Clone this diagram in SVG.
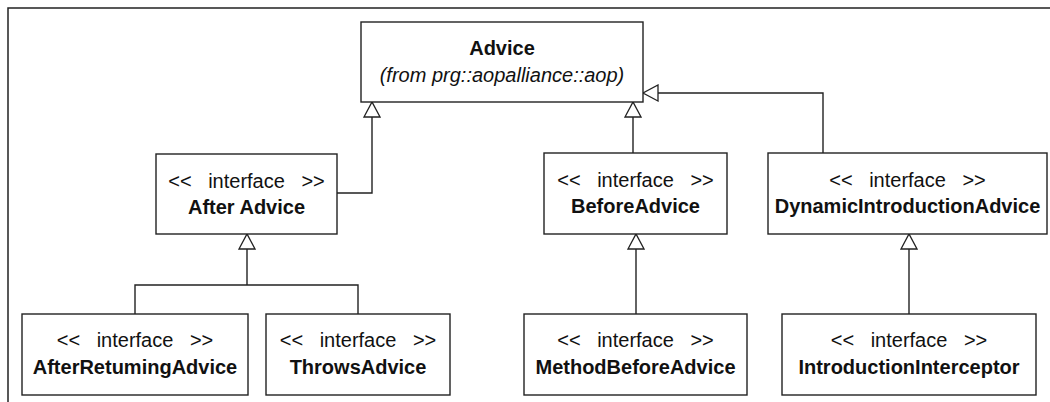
<svg xmlns="http://www.w3.org/2000/svg" width="1050" height="402" viewBox="0 0 1050 402">
<style>
.box{fill:#fff;stroke:#222;stroke-width:1.4}
.st{font-family:"Liberation Sans",Arial,sans-serif;font-size:20px;fill:#111;text-anchor:middle;word-spacing:11px}
.nm{font-family:"Liberation Sans",Arial,sans-serif;font-size:20px;font-weight:bold;fill:#111;text-anchor:middle}
.it{font-family:"Liberation Sans",Arial,sans-serif;font-size:20px;font-style:italic;fill:#111;text-anchor:middle}
.ln{fill:none;stroke:#222;stroke-width:1.4}
.frame{fill:none;stroke:#222;stroke-width:1.5}
</style>
<defs>
<marker id="tri" markerUnits="userSpaceOnUse" markerWidth="18" markerHeight="18" refX="15" refY="8" orient="auto" viewBox="-1 -1 18 18">
<path d="M0,0 L15,8 L0,16 Z" fill="#fff" stroke="#222" stroke-width="1.3"/>
</marker>
</defs>
<path class="frame" d="M8,402 V8 H1050"/>
<g id="connectors">
<path class="ln" d="M337,193 H372 V102" marker-end="url(#tri)"/>
<path class="ln" d="M633,153 V102" marker-end="url(#tri)"/>
<path class="ln" d="M823,153 V93 H643" marker-end="url(#tri)"/>
<path class="ln" d="M135,314 V285 H358 V314"/>
<path class="ln" d="M247,285 V234" marker-end="url(#tri)"/>
<path class="ln" d="M636,314 V234" marker-end="url(#tri)"/>
<path class="ln" d="M909,314 V234" marker-end="url(#tri)"/>
</g>
<g id="advice">
<rect class="box" x="361" y="22" width="282" height="80"/>
<text class="nm" x="502" y="55">Advice</text>
<text class="it" x="502" y="82">(from prg::aopalliance::aop)</text>
</g>
<g id="after-advice">
<rect class="box" x="156" y="154" width="181" height="80"/>
<text class="st" x="246.5" y="188">&lt;&lt; interface &gt;&gt;</text>
<text class="nm" x="246.5" y="214">After Advice</text>
</g>
<g id="before-advice">
<rect class="box" x="544" y="153" width="183" height="81"/>
<text class="st" x="635.5" y="187">&lt;&lt; interface &gt;&gt;</text>
<text class="nm" x="635.5" y="213">BeforeAdvice</text>
</g>
<g id="dynamic-introduction-advice">
<rect class="box" x="768" y="153" width="279" height="81"/>
<text class="st" x="907.5" y="187">&lt;&lt; interface &gt;&gt;</text>
<text class="nm" x="907.5" y="213">DynamicIntroductionAdvice</text>
</g>
<g id="after-returning-advice">
<rect class="box" x="22" y="314" width="226" height="81"/>
<text class="st" x="135" y="347">&lt;&lt; interface &gt;&gt;</text>
<text class="nm" x="135" y="374">AfterRetumingAdvice</text>
</g>
<g id="throws-advice">
<rect class="box" x="266" y="314" width="184" height="81"/>
<text class="st" x="358" y="347">&lt;&lt; interface &gt;&gt;</text>
<text class="nm" x="358" y="374">ThrowsAdvice</text>
</g>
<g id="method-before-advice">
<rect class="box" x="524" y="314" width="223" height="81"/>
<text class="st" x="635.5" y="347">&lt;&lt; interface &gt;&gt;</text>
<text class="nm" x="635.5" y="374">MethodBeforeAdvice</text>
</g>
<g id="introduction-interceptor">
<rect class="box" x="782" y="314" width="254" height="81"/>
<text class="st" x="909" y="347">&lt;&lt; interface &gt;&gt;</text>
<text class="nm" x="909" y="374">IntroductionInterceptor</text>
</g>
</svg>
